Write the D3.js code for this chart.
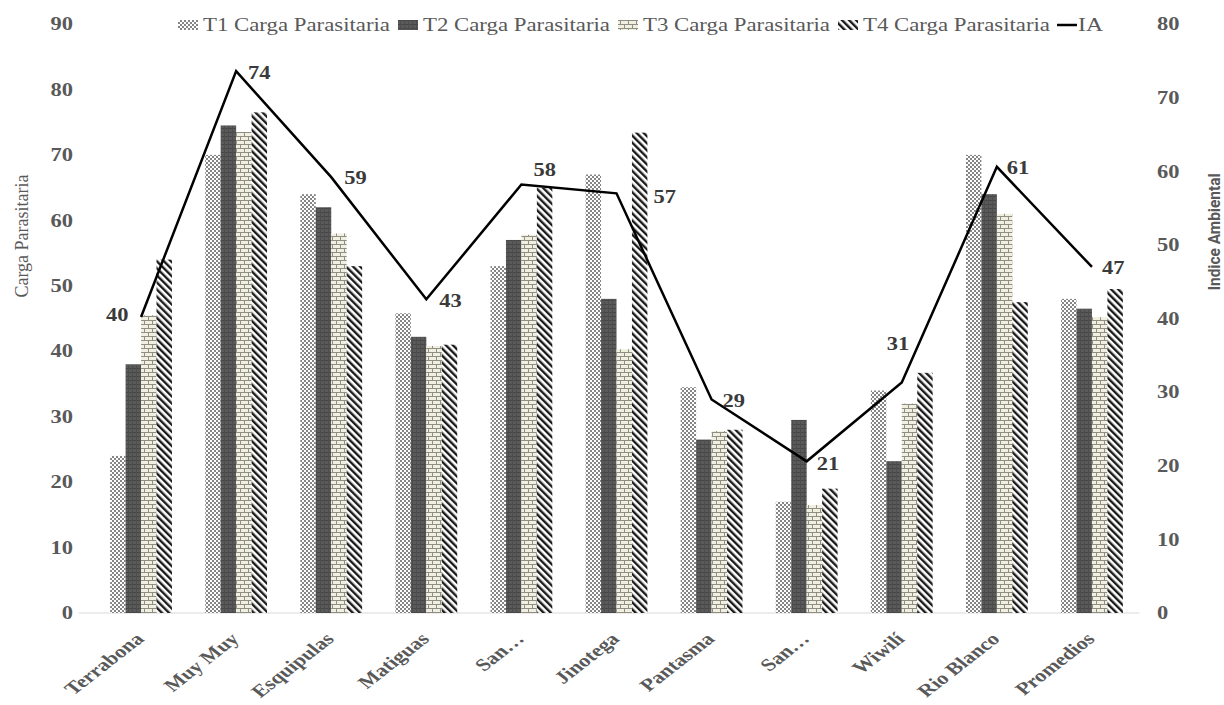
<!DOCTYPE html>
<html>
<head>
<meta charset="utf-8">
<script src="https://cdn.jsdelivr.net/npm/d3@7"></script>
<style>
  html, body { margin: 0; padding: 0; background: #ffffff; }
  svg { display: block; }
</style>
</head>
<body>
<svg id="chart" width="1224" height="705"></svg>
<script>
// ---------- data ----------
const categories = ["Terrabona", "Muy Muy", "Esquipulas", "Matiguas", "San…", "Jinotega", "Pantasma", "San…", "Wiwilí", "Rio Blanco", "Promedios"];
const t1Carga = [24, 70, 64, 45.8, 53, 67, 34.5, 17, 34, 70, 48];
const t2Carga = [38, 74.5, 62, 42.2, 57, 48, 26.5, 29.5, 23.2, 64, 46.5];
const t3Carga = [45.5, 73.5, 58, 40.8, 57.8, 40.3, 27.8, 16.5, 32, 61, 45.2];
const t4Carga = [54, 76.5, 53, 41, 65, 73.4, 28, 19, 36.7, 47.5, 49.5];
const indiceAmbiental = [40.2, 73.6, 59.2, 42.6, 58.2, 57, 29, 20.6, 31.3, 60.6, 47];
const seriesNames = ["T1 Carga Parasitaria", "T2 Carga Parasitaria", "T3 Carga Parasitaria", "T4 Carga Parasitaria"];
const lineName = "IA";
const leftTicks = [0, 10, 20, 30, 40, 50, 60, 70, 80, 90];
const rightTicks = [0, 10, 20, 30, 40, 50, 60, 70, 80];
const leftTitle = "Carga  Parasitaria";
const rightTitle = "Indice Ambiental";

// ---------- layout (not data) ----------
// data label offsets relative to the line point: [dx of text start, dy of text middle]
const labelOffsets = [[-35, -2], [12, 2], [13, 1], [13, 1], [12, -15], [37, 3], [11, 1], [10, 2], [-15, -39], [10, 1], [10, 1]];
const SX = 1.28; // horizontal stretch of the reference's text

const svg = d3.select("#chart");
const plot = { left: 93.5, right: 1139.5, top: 24, bottom: 613 };

const x = d3.scaleBand().domain(d3.range(categories.length)).range([plot.left, plot.right]).paddingInner(0.35).paddingOuter(0.175);
const xs = d3.scaleBand().domain(d3.range(4)).range([0, x.bandwidth()]).padding(0);
const yL = d3.scaleLinear().domain([0, 90]).range([plot.bottom, plot.top]);
const yR = d3.scaleLinear().domain([0, 80]).range([plot.bottom, plot.top]);

const grey = "#595959";
const serif = "'Liberation Serif', 'Times New Roman', serif";

// ---------- patterns ----------
const defs = svg.append("defs");
const p1 = defs.append("pattern").attr("id", "pT1").attr("patternUnits", "userSpaceOnUse").attr("width", 4).attr("height", 4);
p1.append("rect").attr("width", 4).attr("height", 4).attr("fill", "#ffffff");
p1.append("rect").attr("width", 2).attr("height", 2).attr("fill", "#858585");
p1.append("rect").attr("x", 2).attr("y", 2).attr("width", 2).attr("height", 2).attr("fill", "#858585");
const p2 = defs.append("pattern").attr("id", "pT2").attr("patternUnits", "userSpaceOnUse").attr("width", 4).attr("height", 4);
p2.append("rect").attr("width", 4).attr("height", 4).attr("fill", "#5a5a5a");
p2.append("rect").attr("width", 4).attr("height", 1).attr("fill", "#474747");
p2.append("rect").attr("width", 1).attr("height", 4).attr("fill", "#4d4d4d");
const p3 = defs.append("pattern").attr("id", "pT3").attr("patternUnits", "userSpaceOnUse").attr("width", 8).attr("height", 8);
p3.append("rect").attr("width", 8).attr("height", 8).attr("fill", "#f1efe0");
p3.append("path").attr("d", "M0,0.5H8M0,4.5H8M0.5,0V4M4.5,4V8").attr("stroke", "#8f8e84").attr("stroke-width", 1).attr("fill", "none");
const p4 = defs.append("pattern").attr("id", "pT4").attr("patternUnits", "userSpaceOnUse").attr("width", 5).attr("height", 5).attr("patternTransform", "rotate(-45)");
p4.append("rect").attr("width", 5).attr("height", 5).attr("fill", "#ffffff");
p4.append("rect").attr("width", 2.4).attr("height", 5).attr("fill", "#1a1a1a");
const fills = ["url(#pT1)", "url(#pT2)", "url(#pT3)", "url(#pT4)"];

function stretch(sel, k) {
  sel.each(function () {
    const len = this.getComputedTextLength();
    d3.select(this).attr("textLength", len * k).attr("lengthAdjust", "spacingAndGlyphs");
  });
}

// ---------- baseline ----------
svg.append("line").attr("x1", plot.left - 15).attr("x2", plot.right).attr("y1", yL(0)).attr("y2", yL(0)).attr("stroke", "#d9d9d9").attr("stroke-width", 1);

// ---------- bars ----------
const allSeries = [t1Carga, t2Carga, t3Carga, t4Carga];
const rows = [];
categories.forEach((c, i) => allSeries.forEach((s, j) => rows.push({ i, j, v: s[i] })));
svg.append("g").selectAll("rect").data(rows).join("rect")
  .attr("x", d => x(d.i) + xs(d.j))
  .attr("width", xs.bandwidth())
  .attr("y", d => yL(d.v))
  .attr("height", d => yL(0) - yL(d.v))
  .attr("fill", d => fills[d.j]);

// ---------- line ----------
const line = d3.line().x((d, i) => x(i) + x.bandwidth() / 2).y(d => yR(d));
svg.append("path").datum(indiceAmbiental).attr("d", line).attr("fill", "none").attr("stroke", "#000").attr("stroke-width", 2.5).attr("stroke-linejoin", "miter");

// ---------- data labels ----------
const fmt = d3.format(".0f");
const dl = svg.append("g").selectAll("text").data(indiceAmbiental).join("text")
  .attr("x", (d, i) => x(i) + x.bandwidth() / 2 + labelOffsets[i][0])
  .attr("y", (d, i) => yR(d) + labelOffsets[i][1])
  .attr("dy", "0.35em")
  .attr("font-family", serif)
  .attr("font-weight", "bold").attr("font-size", 18).attr("fill", "#3a3a3a")
  .text(d => fmt(d));
stretch(dl, 1.25);

// ---------- axes ----------
const axL = svg.append("g").attr("transform", "translate(73,0)")
  .call(d3.axisLeft(yL).tickValues(leftTicks).tickSize(0).tickPadding(0));
axL.select(".domain").remove();
const axR = svg.append("g").attr("transform", "translate(1157,0)")
  .call(d3.axisRight(yR).tickValues(rightTicks).tickSize(0).tickPadding(0));
axR.select(".domain").remove();
[axL, axR].forEach(a => {
  a.selectAll("text").attr("font-family", serif)
    .attr("font-weight", "bold").attr("font-size", 18).attr("fill", grey);
  stretch(a.selectAll("text"), 1.25);
});

const axX = svg.append("g").attr("transform", `translate(0,${plot.bottom})`)
  .call(d3.axisBottom(x).tickFormat(i => categories[i]).tickSize(0).tickPadding(0));
axX.select(".domain").remove();
axX.selectAll("text")
  .attr("font-family", serif)
  .attr("font-weight", "bold").attr("font-size", 17.5).attr("fill", grey)
  .attr("text-anchor", "end")
  .attr("y", 0).attr("dy", "0")
  .attr("transform", `translate(4,27) scale(${SX},1) rotate(-45)`);

// axis titles
svg.append("text").attr("transform", "translate(28,236) rotate(-90)")
  .attr("text-anchor", "middle").attr("font-family", serif)
  .attr("font-size", 18).attr("fill", grey).text(leftTitle);
svg.append("text").attr("transform", "translate(1220,232) rotate(-90)")
  .attr("text-anchor", "middle").attr("font-family", "Roboto, 'Liberation Sans', sans-serif")
  .attr("font-size", 16).attr("font-weight", "bold").attr("fill", grey)
  .attr("textLength", 117).attr("lengthAdjust", "spacingAndGlyphs").text(rightTitle);

// ---------- legend ----------
const legendTextX = [203, 423, 643, 863];
const lg = svg.append("g");
seriesNames.forEach((n, j) => {
  lg.append("rect").attr("x", legendTextX[j] - 25).attr("y", 20).attr("width", 20).attr("height", 10).attr("fill", fills[j]);
  lg.append("text").attr("x", legendTextX[j]).attr("y", 25).attr("dy", "0.35em")
    .attr("font-family", serif).attr("font-size", 18.5).attr("fill", grey)
    .attr("textLength", 187).attr("lengthAdjust", "spacingAndGlyphs").text(n);
});
lg.append("line").attr("x1", 1057).attr("x2", 1077).attr("y1", 25).attr("y2", 25).attr("stroke", "#000").attr("stroke-width", 2.5);
const iaT = lg.append("text").attr("x", 1078).attr("y", 25).attr("dy", "0.35em")
  .attr("font-family", serif).attr("font-size", 18.5).attr("fill", grey).text(lineName);
stretch(iaT, SX);
</script>
</body>
</html>
